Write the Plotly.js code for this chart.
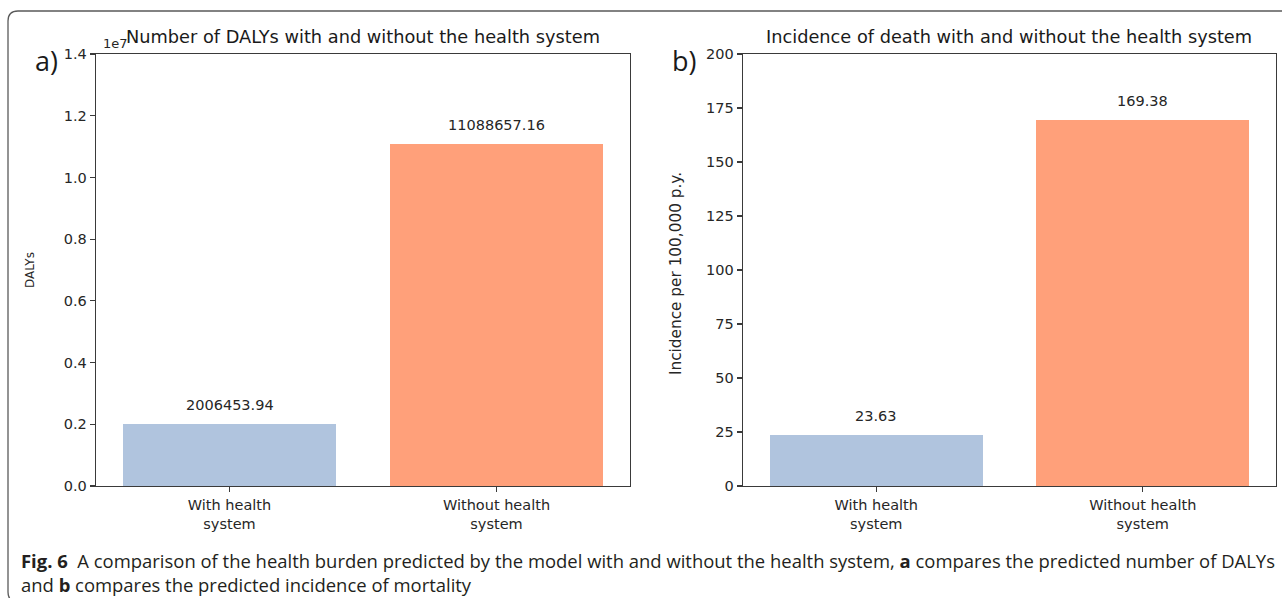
<!DOCTYPE html>
<html>
<head>
<meta charset="utf-8">
<script src="https://cdn.plot.ly/plotly-3.0.1.min.js"></script>
<style>
  html, body { margin: 0; padding: 0; background: #fff; }
  #fig { width: 1282px; height: 598px; }
</style>
</head>
<body>
<div id="fig"></div>
<script>
// Scenario labels shared by both panels
const categories = ["With health<br>system", "Without health<br>system"];
// Panel a: DALYs
const dalys = [2006453.94, 11088657.16];
// Panel b: deaths per 100,000 person-years
const incidence = [23.63, 169.38];
const barColors = ["#B0C4DE", "#FFA07A"];

// Tick labels
const dalyTicks = [0.0, 0.2, 0.4, 0.6, 0.8, 1.0, 1.2, 1.4];   // x 1e7
const incidenceTicks = [0, 25, 50, 75, 100, 125, 150, 175, 200];

const W = 1282, H = 598;
const px = x => x / W;
const py = y => 1 - y / H;

const tickFont = { family: "DejaVu Sans", size: 14.5, color: "#262626" };
const axisLine = "#3a3a3a";

function xAxis(domain) {
  return {
    domain: domain,
    range: [-0.5, 1.5],
    showgrid: false, zeroline: false,
    showline: true, linecolor: axisLine, linewidth: 1.3, mirror: true,
    ticks: "outside", ticklen: 5, tickcolor: axisLine, tickwidth: 1.2,
    tickfont: tickFont, fixedrange: true
  };
}
function yAxis(anchor, range, vals, text) {
  return {
    anchor: anchor,
    domain: [py(486), py(54)],
    range: range,
    tickmode: "array", tickvals: vals, ticktext: text,
    showgrid: false, zeroline: false,
    showline: true, linecolor: axisLine, linewidth: 1.3, mirror: true,
    ticks: "outside", ticklen: 5, tickcolor: axisLine, tickwidth: 1.2,
    tickfont: tickFont, fixedrange: true
  };
}

const traces = [
  {
    type: "bar", x: [0, 1], y: dalys, xaxis: "x", yaxis: "y",
    width: 0.8, marker: { color: barColors, line: { width: 0 } },
    hoverinfo: "skip"
  },
  {
    type: "bar", x: [0, 1], y: incidence, xaxis: "x2", yaxis: "y2",
    width: 0.8, marker: { color: barColors, line: { width: 0 } },
    hoverinfo: "skip"
  }
];

const xa1 = xAxis([px(96), px(630)]);
xa1.anchor = "y";
xa1.tickmode = "array"; xa1.tickvals = [0, 1]; xa1.ticktext = categories;
const xa2 = xAxis([px(743), px(1276)]);
xa2.anchor = "y2";
xa2.tickmode = "array"; xa2.tickvals = [0, 1]; xa2.ticktext = categories;

const ya1 = yAxis("x", [0, 1.4e7], dalyTicks.map(v => v * 1e7), dalyTicks.map(v => v.toFixed(1)));
const ya2 = yAxis("x2", [0, 200], incidenceTicks, incidenceTicks.map(String));

const annotations = [];
// value labels over each bar
dalys.forEach((v, i) => annotations.push({
  xref: "x", yref: "y", x: i, y: v, text: v.toFixed(2), showarrow: false,
  yanchor: "bottom", yshift: 9, font: tickFont
}));
incidence.forEach((v, i) => annotations.push({
  xref: "x2", yref: "y2", x: i, y: v, text: v.toFixed(2), showarrow: false,
  yanchor: "bottom", yshift: 9, font: tickFont
}));

const titleFont = { family: "DejaVu Sans", size: 17.75, color: "#1a1a1a" };
const captionFont = { family: "Open Sans", size: 18.45, color: "#231f20" };
annotations.push(
  { xref: "paper", yref: "paper", x: px(363), y: py(37), text: "Number of DALYs with and without the health system",
    showarrow: false, font: titleFont, xanchor: "center", yanchor: "middle" },
  { xref: "paper", yref: "paper", x: px(1009), y: py(37), text: "Incidence of death with and without the health system",
    showarrow: false, font: titleFont, xanchor: "center", yanchor: "middle" },
  { xref: "paper", yref: "paper", x: px(101), y: py(44), text: "1e7",
    showarrow: false, font: { family: "DejaVu Sans", size: 13, color: "#262626" }, xanchor: "left", yanchor: "middle" },
  // panel letters
  { xref: "paper", yref: "paper", x: px(33), y: py(60), text: "a)",
    showarrow: false, font: { family: "Open Sans", size: 27, color: "#1a1a1a" }, xanchor: "left", yanchor: "middle" },
  { xref: "paper", yref: "paper", x: px(670), y: py(60), text: "b)",
    showarrow: false, font: { family: "Open Sans", size: 27, color: "#1a1a1a" }, xanchor: "left", yanchor: "middle" },
  // y-axis titles
  { xref: "paper", yref: "paper", x: px(30), y: py(270), text: "DALYs", textangle: -90,
    showarrow: false, font: { family: "DejaVu Sans", size: 12, color: "#262626" }, xanchor: "center", yanchor: "middle" },
  { xref: "paper", yref: "paper", x: px(676), y: py(273), text: "Incidence per 100,000 p.y.", textangle: -90,
    showarrow: false, font: { family: "DejaVu Sans", size: 15.3, color: "#262626" }, xanchor: "center", yanchor: "middle" },
  // caption
  { xref: "paper", yref: "paper", x: px(19), y: py(560), xanchor: "left", yanchor: "middle", showarrow: false,
    text: "<b>Fig. 6</b>  A comparison of the health burden predicted by the model with and without the health system, <b>a</b> compares the predicted number of DALYs",
    font: captionFont },
  { xref: "paper", yref: "paper", x: px(19), y: py(584), xanchor: "left", yanchor: "middle", showarrow: false,
    text: "and <b>b</b> compares the predicted incidence of mortality",
    font: captionFont }
);

// rounded frame around the figure (right and bottom edges run off the page)
const fx = px(8), ft = py(11), fb = py(602);
const rx = 10 / W, ry = 10 / H;
const framePath = `M 1.02,${ft} L ${fx + rx},${ft} Q ${fx},${ft} ${fx},${ft - ry} L ${fx},${fb + ry} Q ${fx},${fb} ${fx + rx},${fb} L 1.02,${fb}`;

const layout = {
  width: W, height: H,
  margin: { l: 0, r: 0, t: 0, b: 0 },
  paper_bgcolor: "#ffffff", plot_bgcolor: "#ffffff",
  showlegend: false,
  bargap: 0,
  xaxis: xa1, yaxis: ya1, xaxis2: xa2, yaxis2: ya2,
  annotations: annotations,
  shapes: [{ type: "path", xref: "paper", yref: "paper", path: framePath,
             line: { color: "#5a5a5a", width: 1.3 } }]
};

Plotly.newPlot("fig", traces, layout, { staticPlot: true, displayModeBar: false });
</script>
</body>
</html>
